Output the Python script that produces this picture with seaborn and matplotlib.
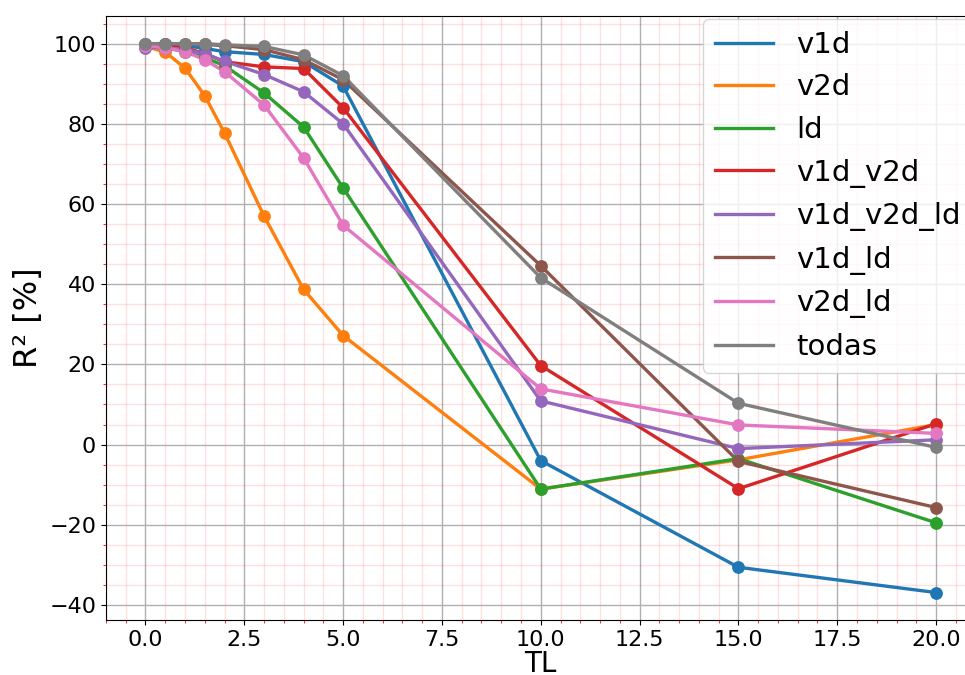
import numpy as np
import pandas as pd
import matplotlib
matplotlib.use("Agg")
import matplotlib.pyplot as plt
from matplotlib.ticker import AutoMinorLocator
import seaborn as sns

# TL values (x axis)
tl = [0, 0.5, 1, 1.5, 2, 3, 4, 5, 10, 15, 20]

# R2 [%] per feature set
v1d = [100, 99.8, 99.5, 98.8, 98.0, 97.3, 95.5, 89.4, -4.0, -30.6, -36.9]
v2d = [99.3, 97.9, 93.9, 87.0, 77.7, 57.0, 38.7, 27.2, -11.1, -3.8, 5.0]
ld = [99.5, 99.0, 98.0, 96.5, 94.5, 87.7, 79.2, 64.0, -11.1, -3.5, -19.5]
v1d_v2d = [99.5, 99.5, 99.0, 97.5, 95.5, 94.2, 93.8, 84.0, 19.7, -11.0, 5.2]
v1d_v2d_ld = [99.0, 99.0, 98.5, 97.5, 95.6, 92.3, 88.0, 80.0, 10.9, -1.0, 1.2]
v1d_ld = [100, 100, 100, 99.8, 99.5, 98.5, 96.0, 91.0, 44.6, -4.2, -15.7]
v2d_ld = [99.5, 99.0, 98.0, 96.0, 93.0, 84.7, 71.5, 54.7, 13.9, 4.9, 2.8]
todas = [100, 100, 100, 100, 99.7, 99.3, 97.2, 92.0, 41.6, 10.3, -0.7]

names = ["v1d", "v2d", "ld", "v1d_v2d", "v1d_v2d_ld", "v1d_ld", "v2d_ld", "todas"]
series = [v1d, v2d, ld, v1d_v2d, v1d_v2d_ld, v1d_ld, v2d_ld, todas]

rows = []
for name, vals in zip(names, series):
    for x, y in zip(tl, vals):
        rows.append({"TL": x, "R2": y, "set": name})
df = pd.DataFrame(rows)

fig = plt.figure(figsize=(9.65, 6.75), dpi=100)
ax = fig.add_axes([0.1098, 0.0815, 1.011 - 0.1098, 0.976 - 0.0815])

colors = sns.color_palette("tab10", len(names))
for i, name in enumerate(names):
    d = df[df["set"] == name]
    sns.lineplot(data=d, x="TL", y="R2", color=colors[i], lw=2.4, label=name, ax=ax)
    sns.scatterplot(data=d, x="TL", y="R2", color=colors[i], s=85, edgecolor=None,
                    linewidth=0, legend=False, ax=ax, zorder=3)

ax.xaxis.set_minor_locator(AutoMinorLocator(5))
ax.yaxis.set_minor_locator(AutoMinorLocator(4))
ax.grid(which="major", color="#b0b0b0", lw=1)
ax.grid(which="minor", color="red", alpha=0.12, lw=1)
ax.tick_params(which="minor", colors="red")
ax.tick_params(which="major", labelsize=16)
ax.set_axisbelow(True)

ax.set_xlabel("TL", fontsize=20, labelpad=0)
ax.set_ylabel("R² [%]", fontsize=23)
ax.legend(loc="upper right", fontsize=21, borderaxespad=0.1)

fig.savefig("out.png", dpi=100)
